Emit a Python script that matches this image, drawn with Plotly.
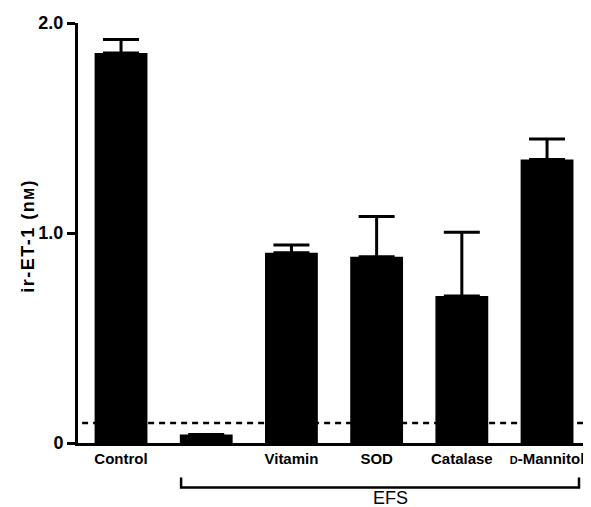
import plotly.graph_objects as go

# ---- data ----
categories = ["Control", "EFS", "Vitamin", "SOD", "Catalase", "D-Mannitol"]
tick_labels = ["Control", "", "Vitamin", "SOD", "Catalase",
               "<span style='font-size:11px'>D</span>-Mannitol"]
values = [1.857, 0.04, 0.906, 0.887, 0.70, 1.35]
errors_up = [0.065, 0.0, 0.037, 0.191, 0.303, 0.098]
detection_limit = 0.095
y_ticks = [0, 1.0, 2.0]
y_tick_labels = ["0", "1.0", "2.0"]

positions = list(range(len(categories)))
x_range = [-0.505, 5.516]
y_range = [0, 2.0]

def xpaper(v):
    return (v - x_range[0]) / (x_range[1] - x_range[0])

FONT = "Liberation Sans, Arial, sans-serif"

fig = go.Figure()
fig.add_trace(go.Bar(
    x=positions, y=values, width=0.62,
    marker=dict(color="black", line=dict(width=0)),
    error_y=dict(type="data", symmetric=False, array=errors_up,
                 arrayminus=[0] * len(values), color="black",
                 thickness=3, width=18, visible=True),
    showlegend=False,
))

# detection-limit dashed line
fig.add_shape(type="line", xref="paper", yref="y",
              x0=0.008, x1=1.0, y0=detection_limit, y1=detection_limit,
              line=dict(color="black", width=2.5, dash="6px,5px"),
              layer="below")

# EFS bracket (spans EFS ... D-Mannitol groups)
bl, br = xpaper(0.705), xpaper(5.375)
yb, yt = -0.106, -0.082
fig.add_shape(type="path", xref="paper", yref="paper",
              path=f"M {bl} {yt} L {bl} {yb} L {br} {yb} L {br} {yt}",
              line=dict(color="black", width=2.5))
fig.add_annotation(xref="paper", yref="paper", x=xpaper(3.16), y=-0.131,
                   text="EFS", showarrow=False, xanchor="center", yanchor="middle",
                   font=dict(family=FONT, size=18, color="black"))

# y-axis title
fig.add_annotation(xref="paper", yref="paper", x=-0.099, y=0.494,
                   text="<span style='letter-spacing:1.5px'>ir-ET-1 (n<span style='font-size:14px'>M</span>)</span>",
                   textangle=-90, showarrow=False, xanchor="center", yanchor="middle",
                   font=dict(family=FONT, size=18, color="black", weight="bold"))

fig.update_layout(
    width=583, height=499,
    margin=dict(l=70, r=0, t=15, b=64),
    plot_bgcolor="white", paper_bgcolor="white",
)
fig.update_xaxes(range=x_range, tickvals=positions, ticktext=tick_labels,
                 showline=True, linecolor="black", linewidth=3,
                 ticks="", showgrid=False, zeroline=False,
                 tickfont=dict(family=FONT, size=15, color="black", weight="bold"))
fig.update_yaxes(range=y_range, tickvals=y_ticks, ticktext=y_tick_labels,
                 showline=True, linecolor="black", linewidth=3,
                 ticks="outside", ticklen=8, tickwidth=3, tickcolor="black",
                 showgrid=False, zeroline=False,
                 tickfont=dict(family=FONT, size=18, color="black", weight="bold"))

fig.write_html("out.html")
